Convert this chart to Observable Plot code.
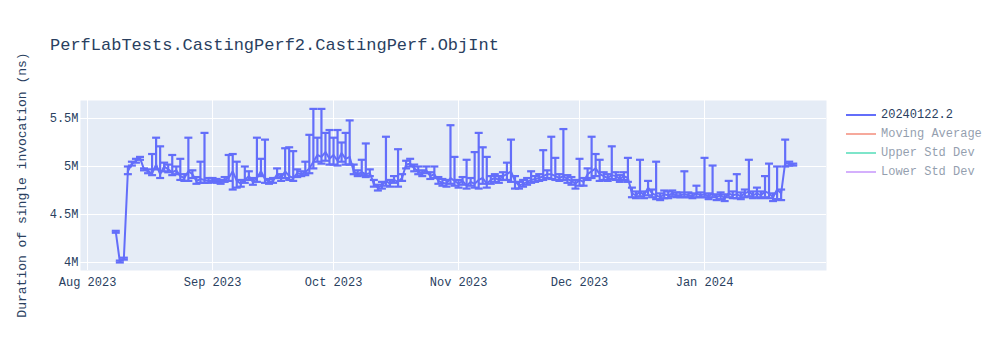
<!DOCTYPE html>
<html><head><meta charset="utf-8">
<script src="https://cdn.jsdelivr.net/npm/d3@7"></script>
<script src="https://cdn.jsdelivr.net/npm/@observablehq/plot@0.6"></script>
<style>
body{margin:0;background:#fff;}
#wrap{position:relative;width:1000px;height:350px;font-family:"Liberation Mono","DejaVu Sans Mono",monospace;color:#2a3f5f;}
#title{position:absolute;left:50px;top:35px;font-size:17px;line-height:22px;white-space:nowrap;}
#ylabel{position:absolute;left:22px;top:185px;font-size:13px;white-space:nowrap;transform:translate(-50%,-50%) rotate(-90deg);}
#legend{position:absolute;left:846px;top:105px;font-size:12px;}
.row{display:flex;align-items:center;height:19px;white-space:nowrap;}
.sw{width:30px;height:2px;margin-right:5px;}
.faded{opacity:0.5;}
</style></head><body>
<div id="wrap"><div id="chart"></div><div id="title"></div><div id="ylabel"></div><div id="legend"></div></div>
<script>
const titleText = "PerfLabTests.CastingPerf2.CastingPerf.ObjInt";
const yLabelText = "Duration of single invocation (ns)";
const legendNames = ["20240122.2", "Moving Average", "Upper Std Dev", "Lower Std Dev"];
const legendColors = ["#636efa", "#EF553B", "#00cc96", "#ab63fa"];
const xTickDates = ["2023-08-01","2023-09-01","2023-10-01","2023-11-01","2023-12-01","2024-01-01"];
const yTicks = [4e6, 4.5e6, 5e6, 5.5e6];
const yTickLabels = ["4M", "4.5M", "5M", "5.5M"];

const dates = [
"2023-08-08","2023-08-09","2023-08-10","2023-08-11","2023-08-12","2023-08-13","2023-08-14","2023-08-15","2023-08-16","2023-08-17","2023-08-18","2023-08-19","2023-08-20","2023-08-21","2023-08-22","2023-08-23","2023-08-24","2023-08-25","2023-08-26","2023-08-27","2023-08-28","2023-08-29","2023-08-30","2023-08-31",
"2023-09-01","2023-09-02","2023-09-03","2023-09-04","2023-09-05","2023-09-06","2023-09-07","2023-09-08","2023-09-09","2023-09-10","2023-09-11","2023-09-12","2023-09-13","2023-09-14","2023-09-15","2023-09-16","2023-09-17","2023-09-18","2023-09-19","2023-09-20","2023-09-21","2023-09-22","2023-09-23","2023-09-24","2023-09-25","2023-09-26","2023-09-27","2023-09-28","2023-09-29","2023-09-30",
"2023-10-01","2023-10-02","2023-10-03","2023-10-04","2023-10-05","2023-10-06","2023-10-07","2023-10-08","2023-10-09","2023-10-10","2023-10-11","2023-10-12","2023-10-13","2023-10-14","2023-10-15","2023-10-16","2023-10-17","2023-10-18","2023-10-19","2023-10-20","2023-10-21","2023-10-22","2023-10-23","2023-10-24","2023-10-25","2023-10-26","2023-10-27","2023-10-28","2023-10-29","2023-10-30","2023-10-31",
"2023-11-01","2023-11-02","2023-11-03","2023-11-04","2023-11-05","2023-11-06","2023-11-07","2023-11-08","2023-11-09","2023-11-10","2023-11-11","2023-11-12","2023-11-13","2023-11-14","2023-11-15","2023-11-16","2023-11-17","2023-11-18","2023-11-19","2023-11-20","2023-11-21","2023-11-22","2023-11-23","2023-11-24","2023-11-25","2023-11-26","2023-11-27","2023-11-28","2023-11-29","2023-11-30",
"2023-12-01","2023-12-02","2023-12-03","2023-12-04","2023-12-05","2023-12-06","2023-12-07","2023-12-08","2023-12-09","2023-12-10","2023-12-11","2023-12-12","2023-12-13","2023-12-14","2023-12-15","2023-12-16","2023-12-17","2023-12-18","2023-12-19","2023-12-20","2023-12-21","2023-12-22","2023-12-23","2023-12-24","2023-12-25","2023-12-26","2023-12-27","2023-12-28","2023-12-29","2023-12-30","2023-12-31",
"2024-01-01","2024-01-02","2024-01-03","2024-01-04","2024-01-05","2024-01-06","2024-01-07","2024-01-08","2024-01-09","2024-01-10","2024-01-11","2024-01-12","2024-01-13","2024-01-14","2024-01-15","2024-01-16","2024-01-17","2024-01-18","2024-01-19","2024-01-20","2024-01-21","2024-01-22","2024-01-23"];

// values in millions of ns
const values = [
4.32,4.01,4.04,4.95,5.03,5.06,5.09,4.97,4.95,4.93,5.02,4.92,5.00,4.97,4.94,4.96,4.90,4.88,4.95,4.92,4.85,4.87,4.86,4.85,
4.86,4.85,4.84,4.86,4.88,4.95,4.85,4.82,4.86,4.90,4.84,4.88,4.95,4.87,4.84,4.85,4.92,4.88,4.95,4.90,4.88,4.93,4.92,4.94,4.98,5.05,5.12,5.10,5.15,5.08,
5.12,5.06,5.14,5.08,5.10,4.95,4.92,4.94,4.92,4.93,4.82,4.78,4.80,4.85,4.82,4.86,4.84,4.88,5.02,5.03,4.98,4.95,4.93,4.96,4.90,4.92,4.85,4.83,4.82,4.88,4.85,
4.82,4.85,4.80,4.84,4.82,4.86,4.88,4.82,4.86,4.88,4.86,4.90,4.92,4.95,4.85,4.80,4.82,4.84,4.86,4.87,4.88,4.90,4.92,4.92,4.90,4.88,4.90,4.87,4.85,4.82,
4.86,4.84,4.92,4.95,4.98,4.92,4.90,4.88,4.91,4.90,4.87,4.90,4.88,4.72,4.70,4.74,4.70,4.78,4.72,4.70,4.68,4.71,4.70,4.72,4.70,4.70,4.71,4.70,4.69,4.72,4.70,
4.71,4.69,4.72,4.68,4.70,4.67,4.72,4.70,4.71,4.69,4.72,4.74,4.70,4.72,4.70,4.74,4.72,4.68,4.76,4.72,5.04,5.03,5.02];

const upper = [
4.33,4.02,4.05,5.00,5.05,5.08,5.10,4.98,4.97,5.13,5.30,5.21,5.04,5.02,5.12,5.00,5.08,4.92,5.30,4.96,4.89,5.05,5.35,4.88,
4.88,4.87,4.86,4.89,5.12,5.13,5.05,4.86,5.00,4.95,4.88,5.30,5.08,5.28,4.87,4.88,4.98,4.92,5.19,5.20,5.16,4.97,4.95,5.05,5.33,5.60,5.30,5.60,5.35,5.38,
5.30,5.38,5.25,5.35,5.48,5.02,4.96,5.07,5.24,4.97,4.86,4.81,4.84,5.31,4.86,4.90,5.18,4.92,5.06,5.08,5.02,5.00,4.96,5.00,4.94,5.00,4.89,4.87,4.86,5.43,5.10,
4.86,4.89,5.07,4.88,5.15,5.35,5.20,5.10,4.90,4.92,4.90,4.94,5.04,5.28,4.90,4.84,4.86,4.88,4.95,4.90,4.92,5.17,4.96,5.31,5.09,4.92,5.39,4.91,4.89,4.86,
5.08,4.88,4.98,5.31,5.13,5.07,4.94,4.92,5.21,4.94,4.91,4.94,5.09,4.78,4.74,5.07,4.74,4.85,4.76,5.05,4.72,4.75,4.74,4.75,4.73,4.73,4.95,4.73,4.72,4.80,4.73,
5.09,4.72,5.01,4.71,4.73,4.71,4.85,4.74,4.92,4.73,4.76,5.07,4.74,4.78,4.74,4.90,5.03,4.72,5.00,4.76,5.28,5.05,5.03];

const lower = [
4.31,4.00,4.03,4.92,5.01,5.04,5.07,4.96,4.93,4.91,4.97,4.88,4.95,4.94,4.91,4.92,4.86,4.85,4.85,4.88,4.82,4.83,4.83,4.83,
4.84,4.83,4.82,4.84,4.85,4.76,4.78,4.79,4.83,4.86,4.81,4.84,4.90,4.83,4.82,4.83,4.88,4.85,4.88,4.86,4.85,4.89,4.90,4.91,4.93,4.98,5.05,5.03,5.06,5.02,
5.02,5.01,5.05,5.02,5.02,4.92,4.90,4.91,4.89,4.90,4.79,4.75,4.77,4.80,4.79,4.83,4.79,4.85,4.98,5.00,4.95,4.92,4.90,4.93,4.87,4.88,4.82,4.80,4.79,4.82,4.80,
4.78,4.81,4.77,4.80,4.78,4.77,4.82,4.78,4.82,4.84,4.83,4.86,4.86,4.84,4.77,4.77,4.79,4.81,4.83,4.84,4.85,4.86,4.88,4.87,4.86,4.85,4.86,4.83,4.81,4.77,
4.80,4.80,4.86,4.88,4.90,4.85,4.86,4.85,4.87,4.86,4.84,4.86,4.84,4.68,4.67,4.69,4.67,4.70,4.68,4.66,4.65,4.67,4.67,4.69,4.68,4.68,4.68,4.68,4.67,4.68,4.68,
4.68,4.66,4.68,4.65,4.66,4.64,4.68,4.67,4.67,4.66,4.68,4.69,4.67,4.68,4.67,4.68,4.67,4.64,4.66,4.65,5.00,5.01,5.01];

const data = dates.map((d, i) => ({
  date: new Date(d + "T00:00:00Z"),
  value: values[i] * 1e6,
  hi: upper[i] * 1e6,
  lo: lower[i] * 1e6
}));

const color = legendColors[0];
const cap = {draw(context, size) { const w = Math.sqrt(size / Math.PI); context.moveTo(-w, 0); context.lineTo(w, 0); }};
const tickDates = xTickDates.map(d => new Date(d + "T00:00:00Z"));

const chart = Plot.plot({
  width: 1000, height: 350,
  marginTop: 100, marginBottom: 80, marginLeft: 80, marginRight: 174,
  style: {fontFamily: '"Liberation Mono", "DejaVu Sans Mono", monospace', fontSize: "12px", color: "#2a3f5f", background: "transparent", overflow: "visible"},
  x: {type: "utc", domain: [new Date("2023-07-30T06:00:00Z"), new Date("2024-01-31T06:00:00Z")]},
  y: {domain: [3.9167e6, 5.6875e6]},
  marks: [
    Plot.frame({fill: "#e5ecf6", stroke: null}),
    Plot.gridX(tickDates, {stroke: "#fff", strokeOpacity: 1, strokeWidth: 1}),
    Plot.gridY(yTicks, {stroke: "#fff", strokeOpacity: 1, strokeWidth: 1}),
    Plot.axisX({ticks: tickDates, tickFormat: d3.utcFormat("%b %Y"), tickSize: 0, tickPadding: 7, label: null, fill: "#2a3f5f"}),
    Plot.axisY({ticks: yTicks, tickFormat: d => yTickLabels[yTicks.indexOf(d)], tickSize: 0, tickPadding: 2, label: null, fill: "#2a3f5f"}),
    Plot.ruleX(data, {x: "date", y1: "lo", y2: "hi", stroke: color, strokeWidth: 2.2}),
    Plot.line(data, {x: "date", y: "value", stroke: color, strokeWidth: 2}),
    Plot.dot(data, {x: "date", y: "hi", symbol: cap, r: 4, stroke: color, strokeWidth: 2.2, fill: "none"}),
    Plot.dot(data, {x: "date", y: "lo", symbol: cap, r: 4, stroke: color, strokeWidth: 2.2, fill: "none"})
  ]
});
document.getElementById("chart").appendChild(chart);
document.getElementById("title").textContent = titleText;
document.getElementById("ylabel").textContent = yLabelText;
const legend = document.getElementById("legend");
legendNames.forEach((name, i) => {
  const row = document.createElement("div");
  row.className = "row" + (i > 0 ? " faded" : "");
  const sw = document.createElement("div");
  sw.className = "sw";
  sw.style.background = legendColors[i];
  const tx = document.createElement("span");
  tx.textContent = name;
  row.appendChild(sw); row.appendChild(tx);
  legend.appendChild(row);
});
</script>
</body></html>
